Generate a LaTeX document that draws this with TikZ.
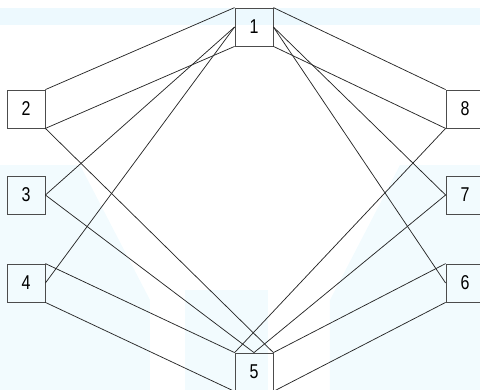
\documentclass[tikz,border=0pt]{standalone}
\usepackage{fontspec}
\setmainfont{Liberation Sans}[FakeStretch=0.8]
\begin{document}
\begin{tikzpicture}[x=0.75pt,y=-0.75pt,
  box/.style={draw=black!70,line width=0.6pt,minimum width=28.5pt,minimum height=28.5pt,inner sep=0pt,font=\fontsize{15}{15}\selectfont},
  link/.style={draw=black!85,line width=0.55pt}]
\useasboundingbox (0,0) rectangle (480,390);
\clip (0,0) rectangle (480,390);
% faint watermark
\fill[cyan!7] (0,8) rectangle (480,25);
\fill[cyan!5] (0,165) -- (80,165) -- (150,300) -- (150,390) -- (0,390) -- cycle;
\fill[cyan!5] (185,290) rectangle (268,390);
\fill[cyan!5] (480,165) -- (400,165) -- (330,300) -- (330,390) -- (480,390) -- cycle;
% nodes
\node[box] (n1) at (254,27) {1};
\node[box] (n2) at (26,109) {2};
\node[box] (n3) at (26,195) {3};
\node[box] (n4) at (26,283) {4};
\node[box] (n5) at (254,372) {5};
\node[box] (n8) at (465,109) {8};
\node[box] (n7) at (465,195) {7};
\node[box] (n6) at (465,283) {6};
% connectors
\draw[link] (n1.north west) -- (n2.north east);
\draw[link] (n1.south west) -- (n2.south east);
\draw[link] (n1.west) -- (n3.east);
\draw[link] (n1.west) -- (n4.east);
\draw[link] (n1.north east) -- (n8.north west);
\draw[link] (n1.south east) -- (n8.south west);
\draw[link] (n1.east) -- (n7.west);
\draw[link] (n1.east) -- (n6.west);
\draw[link] (n5.north west) -- (n4.north east);
\draw[link] (n5.south west) -- (n4.south east);
\draw[link] (n5.north) -- (n3.east);
\draw[link] (n5.north east) -- (n2.south east);
\draw[link] (n5.north east) -- (n6.north west);
\draw[link] (n5.south east) -- (n6.south west);
\draw[link] (n5.north) -- (n7.west);
\draw[link] (n5.north west) -- (n8.south west);
\end{tikzpicture}
\end{document}
